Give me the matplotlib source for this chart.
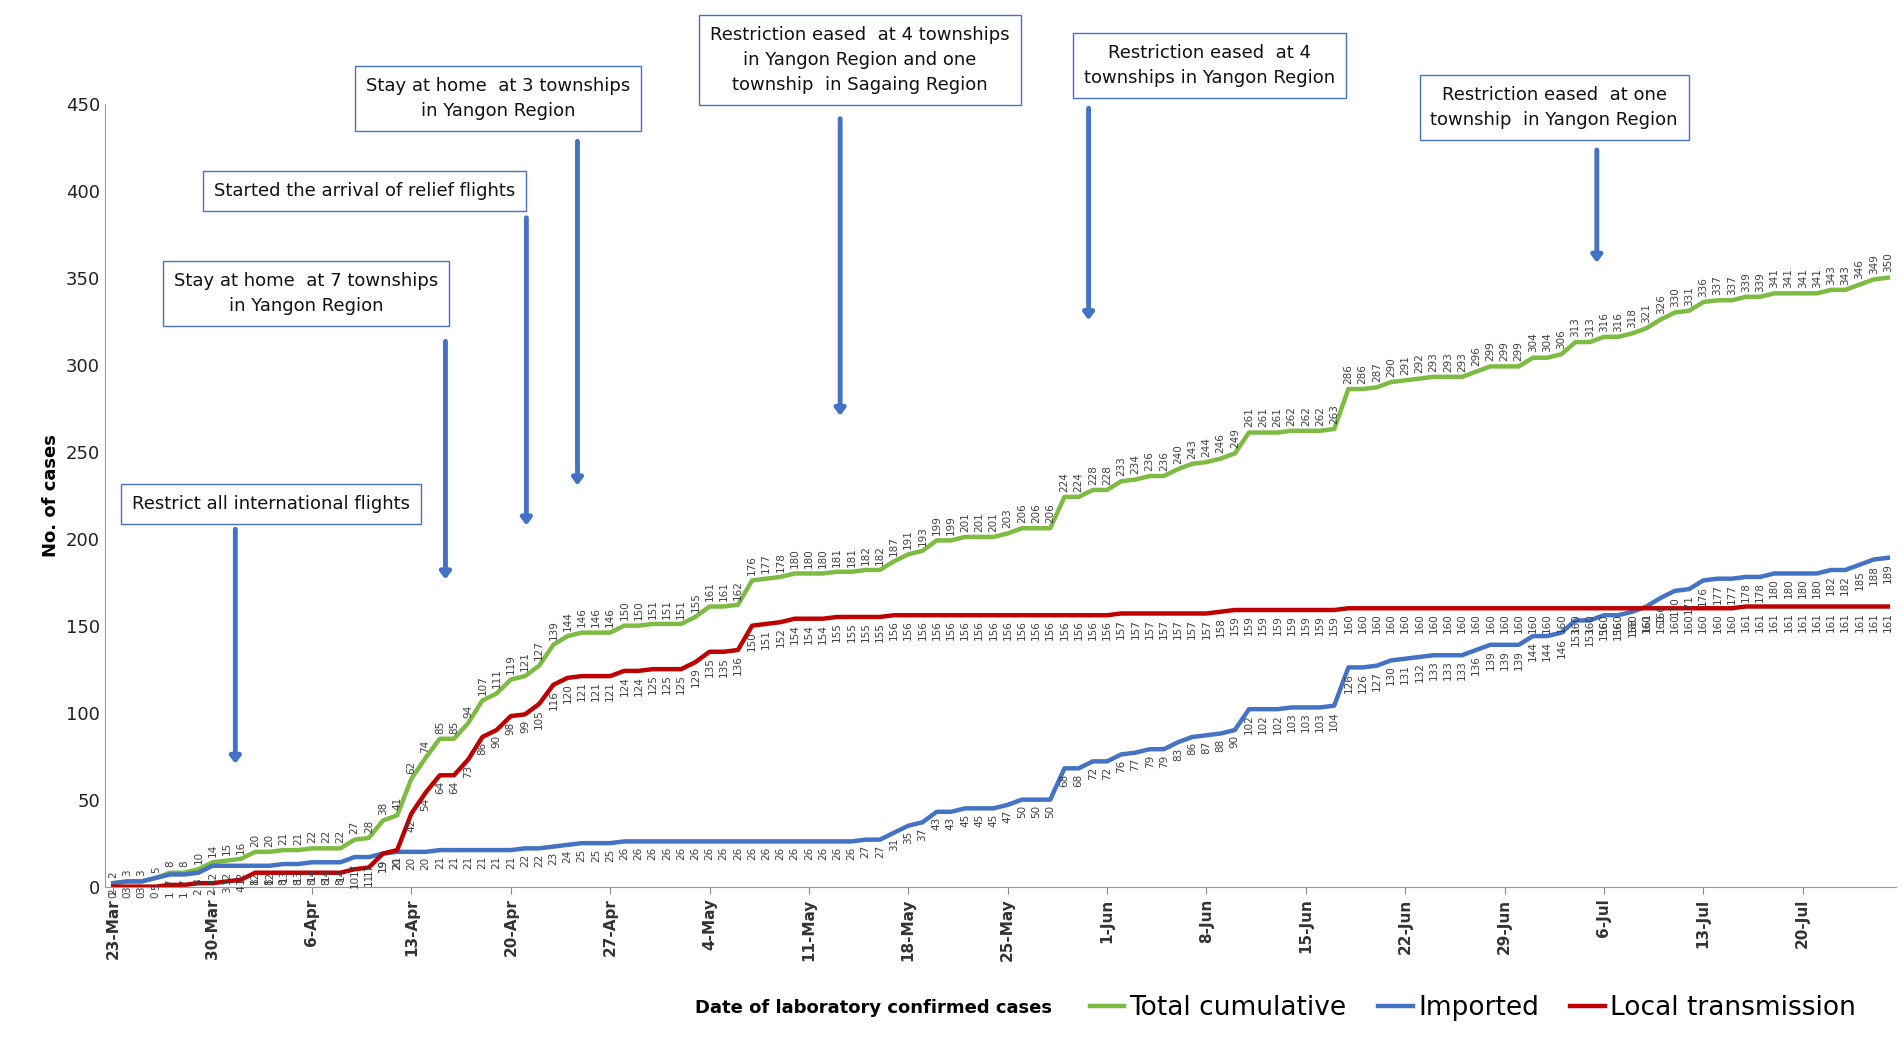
import numpy as np
import pandas as pd
import matplotlib
matplotlib.use("Agg")
import matplotlib.pyplot as plt

# daily series, 23-Mar to 26-Jul
dates = pd.date_range("2020-03-23", "2020-07-26", freq="D")
total = [2, 3, 3, 5, 8, 8, 10, 14, 15, 16, 20, 20, 21, 21, 22, 22, 22, 27, 28, 38, 41,
         62, 74, 85, 85, 94, 107, 111, 119,
         121, 127, 139, 144, 146, 146, 146, 150, 150, 151, 151, 151, 155, 161, 161, 162,
         176, 177, 178, 180, 180, 180, 181, 181, 182, 182, 187, 191, 193, 199, 199, 201, 201,
         201, 203, 206, 206, 206, 224, 224, 228, 228, 233, 234, 236, 236, 240, 243, 244,
         246, 249, 261, 261, 261, 262, 262, 262, 263, 286, 286, 287, 290, 291, 292,
         293, 293, 293, 296, 299, 299, 299, 304, 304, 306, 313, 313, 316, 316, 318, 321,
         326, 330, 331, 336, 337, 337, 339, 339, 341, 341, 341, 341, 343, 343, 346, 349, 350]
local = ([0, 0, 0, 0, 1, 1, 2, 2, 3, 4, 8, 8, 8, 8, 8, 8, 8, 10, 11, 19, 21,
          42, 54, 64, 64, 73, 86, 90, 98,
          99, 105, 116, 120, 121, 121, 121,
          124, 124, 125, 125, 125, 129, 135, 135, 136,
          150, 151, 152, 154, 154, 154, 155, 155, 155, 155]
         + [156] * 16 + [157] * 7 + [158] + [159] * 8 + [160] * 28 + [161] * 11)
imported = [t - l for t, l in zip(total, local)]

events = [
    ("Restrict all international flights", 11.1, 220, 8.6, 207, 69),
    ("Stay at home  at 7 townships\nin Yangon Region", 13.6, 341, 23.4, 315, 175),
    ("Started the arrival of relief flights", 17.7, 400, 29.1, 386, 206),
    ("Stay at home  at 3 townships\nin Yangon Region", 27.1, 453, 32.7, 430, 229),
    ("Restriction eased  at 4 townships\nin Yangon Region and one\ntownship  in Sagaing Region", 52.6, 475, 51.2, 443, 269),
    ("Restriction eased  at 4\ntownships in Yangon Region", 77.2, 472, 68.7, 449, 324),
    ("Restriction eased  at one\ntownship  in Yangon Region", 101.5, 448, 104.5, 425, 357),
]

green, blue, red = "#7DBB42", "#4472C4", "#C00000"

fig = plt.figure(figsize=(19.04, 10.37), dpi=100)
ax = fig.add_axes([0.055, 0.145, 0.941, 0.755])
x = np.arange(len(dates))
ax.plot(x, total, color=green, lw=3.2, label="Total cumulative")
ax.plot(x, imported, color=blue, lw=3.2, label="Imported")
ax.plot(x, local, color=red, lw=3.2, label="Local transmission")

for i in x:
    ax.text(i, total[i] + 3, str(total[i]), rotation=90, ha="center", va="bottom",
            fontsize=7.5, color="#404040")
    ax.text(i, local[i] - 3, str(local[i]), rotation=90, ha="center", va="top",
            fontsize=7.5, color="#404040")
    ax.text(i, imported[i] - 3, str(imported[i]), rotation=90, ha="center", va="top",
            fontsize=7.5, color="#404040")

for txt, tx, ty, ax_x, y0, y1 in events:
    ax.text(tx, ty, txt, ha="center", va="center", fontsize=13, color="#111111",
            linespacing=1.5, clip_on=False,
            bbox=dict(boxstyle="square,pad=0.6", fc="white", ec=blue, lw=1))
    ax.annotate("", xy=(ax_x, y1), xytext=(ax_x, y0), annotation_clip=False,
                arrowprops=dict(arrowstyle="-|>,head_width=0.3,head_length=0.4",
                                color=blue, lw=3.5))

ax.set_xlim(-0.6, len(dates) - 0.4)
ax.set_ylim(0, 450)
ax.set_yticks(range(0, 451, 50))
ticks = x[::7]
ax.set_xticks(ticks)
ax.set_xticklabels([d.strftime("%-d-%b") for d in dates[::7]], rotation=90,
                   fontsize=11, fontweight="bold", color="#333333")
ax.tick_params(axis="y", labelsize=13, colors="#222222", length=0)
ax.tick_params(axis="x", length=5, color="#888888")
ax.set_ylabel("No. of cases", fontsize=13, fontweight="bold")
for s in ["top", "right"]:
    ax.spines[s].set_visible(False)
ax.spines["left"].set_color("#999999")
ax.spines["bottom"].set_color("#999999")

fig.text(0.365, 0.028, "Date of laboratory confirmed cases", fontsize=13,
         fontweight="bold", va="center")
fig.legend(loc="center left", bbox_to_anchor=(0.56, 0.028), ncol=3, frameon=False,
           fontsize=19, handlelength=1.3, handletextpad=0.2, columnspacing=1.2)

fig.savefig("out.png", dpi=100)
